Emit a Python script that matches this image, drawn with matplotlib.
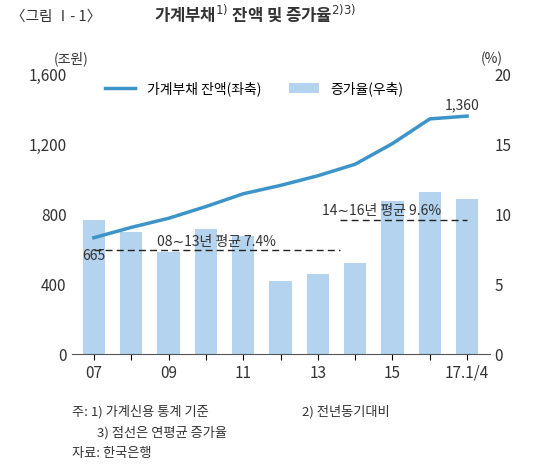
import matplotlib
matplotlib.use("Agg")
import matplotlib.pyplot as plt
import numpy as np

plt.rcParams['font.family'] = ['Noto Sans CJK KR', 'DejaVu Sans']

categories = ['07','08','09','10','11','12','13','14','15','16','17.1/4']
xticklabels = ['07','','09','','11','','13','','15','','17.1/4']
debt = [665, 724, 776, 843, 916, 964, 1019, 1085, 1203, 1344, 1360]
growth = [9.6, 8.7, 7.3, 8.9, 8.4, 5.2, 5.7, 6.5, 10.9, 11.6, 11.1]
avg1 = 7.4
avg2 = 9.6

fig = plt.figure(figsize=(5.5, 4.69), dpi=100)
ax2 = fig.add_axes([0.13, 0.245, 0.76, 0.597])
ax = ax2.twinx()
x = np.arange(len(categories))
ax2.bar(x, growth, width=0.6, color='#b3d3ee', label='증가율(우축)')
ax2.plot([0.0, 6.6], [avg1, avg1], ls=(0, (5, 3)), color='#222222', lw=1)
ax2.plot([6.6, 10.0], [avg2, avg2], ls=(0, (5, 3)), color='#222222', lw=1)
ax2.text(1.7, avg1 + 0.35, f'08∼13년 평균 {avg1}%', fontsize=10, color='#333333')
ax2.text(6.1, avg2 + 0.35, f'14∼16년 평균 {avg2}%', fontsize=10, color='#333333')
ax2.set_ylim(0, 20)
ax.plot(x, debt, color='#3d94c8', lw=2.5, label='가계부채 잔액(좌축)')
ax.set_ylim(0, 1600)
ax.text(x[0] - 0.3, debt[0] - 130, f'{debt[0]:,}', fontsize=10, color='#333333')
ax.text(x[-1] - 0.6, debt[-1] + 40, f'{debt[-1]:,}', fontsize=10, color='#333333')

ax.yaxis.tick_left(); ax.yaxis.set_label_position('left')
ax2.yaxis.tick_right(); ax2.yaxis.set_label_position('right')
ax.set_yticks([0, 400, 800, 1200, 1600])
ax.set_yticklabels(['0', '400', '800', '1,200', '1,600'])
ax2.set_yticks([0, 5, 10, 15, 20])
for a in (ax, ax2):
    for s in ['top', 'left', 'right']:
        a.spines[s].set_visible(False)
    a.tick_params(axis='y', length=0, labelsize=11, colors='#333333')
ax2.spines['bottom'].set_color('#555555')
ax.spines['bottom'].set_visible(False)
ax2.set_xticks(x)
ax2.set_xticklabels(xticklabels, fontsize=11, color='#333333')
ax2.tick_params(axis='x', length=4, direction='out')
ax2.set_xlim(-0.6, len(x) - 0.4)

h1, l1 = ax.get_legend_handles_labels()
h2, l2 = ax2.get_legend_handles_labels()
ax.legend(h1 + h2, l1 + l2, loc='upper left', bbox_to_anchor=(0.05, 1.02), ncol=2,
          frameon=False, fontsize=10, handlelength=2.2, columnspacing=2)

fig.text(0.13, 0.865, '(조원)', fontsize=10, ha='center', color='#333333')
fig.text(0.895, 0.865, '(%)', fontsize=10, ha='center', color='#333333')
fig.text(0.02, 0.955, '〈그림 Ⅰ- 1〉', fontsize=10.5, color='#333333')
fig.text(0.28, 0.955, '가계부채$^{1)}$ 잔액 및 증가율$^{2)3)}$', fontsize=12, fontweight='bold', color='#333333')
fig.text(0.13, 0.115, '주: 1) 가계신용 통계 기준', fontsize=9.5, color='#333333')
fig.text(0.55, 0.115, '2) 전년동기대비', fontsize=9.5, color='#333333')
fig.text(0.177, 0.07, '3) 점선은 연평균 증가율', fontsize=9.5, color='#333333')
fig.text(0.13, 0.025, '자료: 한국은행', fontsize=9.5, color='#333333')
fig.savefig('out.png', dpi=100)
